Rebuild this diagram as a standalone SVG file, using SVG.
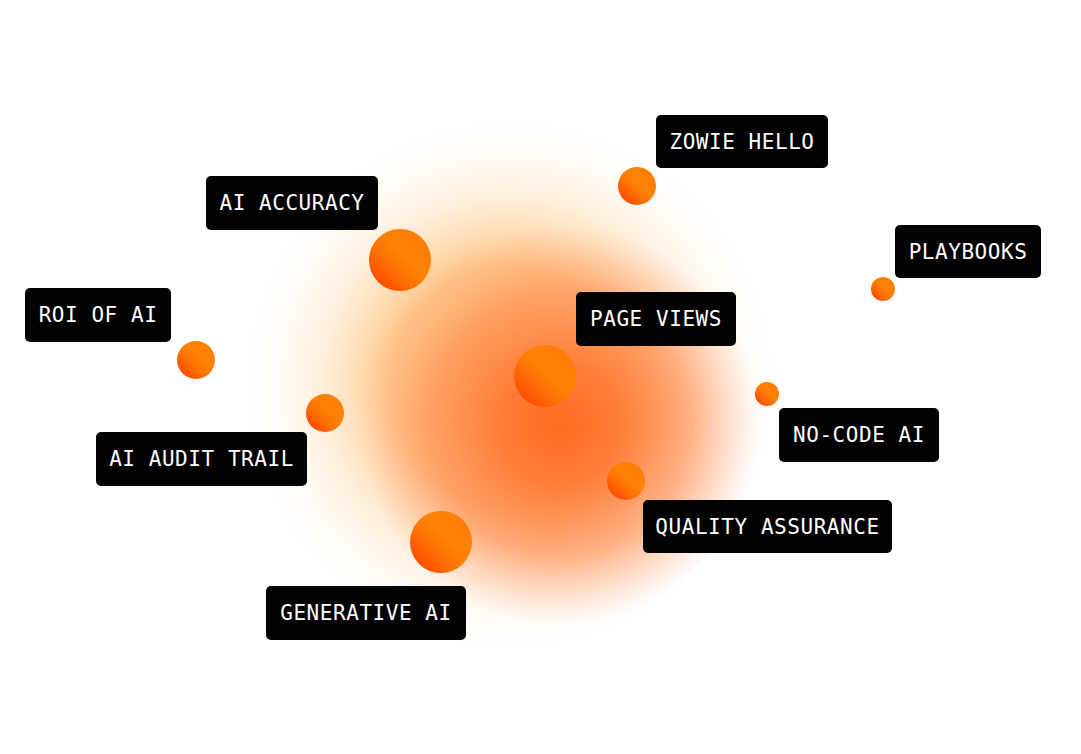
<svg xmlns="http://www.w3.org/2000/svg" width="1081" height="754" viewBox="0 0 1081 754">
<style>
.tag{fill:#020203}
.lbl{font-family:"DejaVu Sans Mono","Liberation Mono",monospace;font-size:21px;fill:#fff;text-anchor:middle;dominant-baseline:central;letter-spacing:.55px}
.dot{fill:url(#dot)}
</style>
<defs>
<radialGradient id="pale" gradientUnits="userSpaceOnUse" cx="510" cy="385" r="265">
<stop offset="0" stop-color="#ffb060"/><stop offset=".45" stop-color="#ffbb70" stop-opacity=".85"/><stop offset=".7" stop-color="#ffd8a8" stop-opacity=".45"/><stop offset="1" stop-color="#fff0e0" stop-opacity="0"/>
</radialGradient>
<radialGradient id="core" gradientUnits="userSpaceOnUse" cx="560" cy="425" r="200">
<stop offset="0" stop-color="#ff6a20"/><stop offset=".3" stop-color="#ff7a35" stop-opacity=".95"/><stop offset=".65" stop-color="#ff8f55" stop-opacity=".65"/><stop offset="1" stop-color="#ffb090" stop-opacity="0"/>
</radialGradient>
<linearGradient id="dot" x1=".15" y1=".85" x2=".85" y2=".15">
<stop offset="0" stop-color="#ff4d00"/><stop offset=".35" stop-color="#ff7205"/><stop offset=".6" stop-color="#ff8205"/><stop offset="1" stop-color="#ff7d00"/>
</linearGradient>
</defs>
<rect width="1081" height="754" fill="#fff"/>
<g id="glow">
<circle cx="510" cy="385" r="265" fill="url(#pale)"/>
<circle cx="560" cy="425" r="200" fill="url(#core)"/>
</g>
<g id="connectors"></g>
<g id="node-zowie-hello"><circle class="dot" cx="637" cy="186" r="19"/><rect class="tag" x="656" y="115" width="172" height="53" rx="5"/><text class="lbl" x="742" y="142">ZOWIE HELLO</text></g>
<g id="node-ai-accuracy"><circle class="dot" cx="400" cy="260" r="31"/><rect class="tag" x="206" y="176" width="172" height="54" rx="5"/><text class="lbl" x="292" y="203">AI ACCURACY</text></g>
<g id="node-playbooks"><circle class="dot" cx="883" cy="289" r="12"/><rect class="tag" x="895" y="225" width="146" height="53" rx="5"/><text class="lbl" x="968" y="252">PLAYBOOKS</text></g>
<g id="node-roi-of-ai"><circle class="dot" cx="196" cy="360" r="19"/><rect class="tag" x="25" y="288" width="146" height="54" rx="5"/><text class="lbl" x="98" y="315">ROI OF AI</text></g>
<g id="node-page-views"><circle class="dot" cx="545" cy="376" r="31"/><rect class="tag" x="576" y="292" width="160" height="54" rx="5"/><text class="lbl" x="656" y="319">PAGE VIEWS</text></g>
<g id="node-no-code-ai"><circle class="dot" cx="767" cy="394" r="12"/><rect class="tag" x="779" y="408" width="160" height="54" rx="5"/><text class="lbl" x="859" y="435">NO-CODE AI</text></g>
<g id="node-ai-audit-trail"><circle class="dot" cx="325" cy="413" r="19"/><rect class="tag" x="96" y="432" width="211" height="54" rx="5"/><text class="lbl" x="201.500" y="459">AI AUDIT TRAIL</text></g>
<g id="node-quality-assurance"><circle class="dot" cx="626" cy="481" r="19"/><rect class="tag" x="643" y="500" width="249" height="53" rx="5"/><text class="lbl" x="767.500" y="527">QUALITY ASSURANCE</text></g>
<g id="node-generative-ai"><circle class="dot" cx="441" cy="542" r="31"/><rect class="tag" x="266" y="586" width="200" height="54" rx="5"/><text class="lbl" x="366" y="613">GENERATIVE AI</text></g>
</svg>
